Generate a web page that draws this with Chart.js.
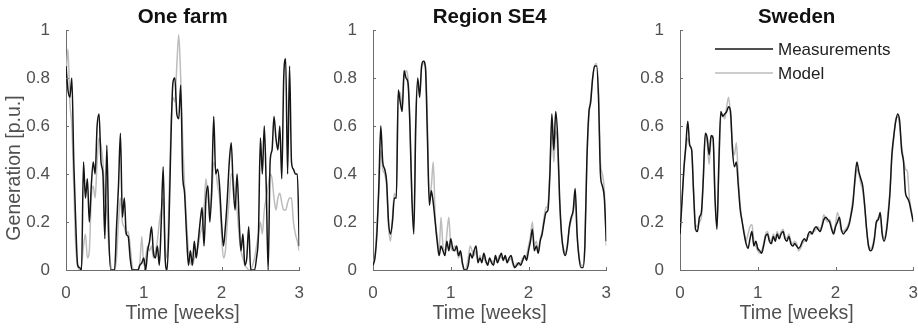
<!DOCTYPE html>
<html>
<head>
<meta charset="utf-8">
<script src="https://cdn.jsdelivr.net/npm/chart.js@4.4.1/dist/chart.umd.min.js"></script>
<style>
  html, body { margin: 0; padding: 0; background: #fff; overflow: hidden; }
  body { width: 918px; height: 328px; position: relative; }
  canvas { position: absolute; top: 0; }
</style>
</head>
<body>
<canvas id="farm" width="309" height="328" style="left:0px"></canvas>
<canvas id="se4" width="309" height="328" style="left:307px"></canvas>
<canvas id="sweden" width="309" height="328" style="left:614px"></canvas>
<script>
// time axis: samples every 0.025 weeks, 0..3
const weeks = Array.from({ length: 121 }, (_, i) => i / 40);
const xTicks = [0, 1, 2, 3];
const yTicks = [0, 0.2, 0.4, 0.6, 0.8, 1];

const farmMeas = [
  0.85,0.75,0.72,0.80,0.45,0.20,0.02,0.01,0.00,0.45,
  0.30,0.38,0.20,0.35,0.45,0.40,0.60,0.65,0.45,0.40,
  0.13,0.52,0.15,0.00,0.00,0.00,0.18,0.35,0.57,0.22,
  0.30,0.15,0.14,0.05,0.00,0.00,0.00,0.00,0.02,0.03,
  0.05,0.00,0.08,0.12,0.18,0.07,0.05,0.10,0.02,0.20,
  0.43,0.05,0.00,0.20,0.55,0.78,0.80,0.65,0.63,0.77,
  0.40,0.32,0.15,0.02,0.08,0.02,0.12,0.05,0.12,0.20,
  0.26,0.10,0.30,0.35,0.20,0.35,0.64,0.40,0.42,0.35,
  0.20,0.10,0.18,0.30,0.45,0.53,0.35,0.25,0.40,0.22,
  0.08,0.15,0.02,0.05,0.18,0.00,0.00,0.00,0.05,0.15,
  0.55,0.40,0.60,0.35,0.00,0.45,0.50,0.64,0.55,0.50,
  0.60,0.38,0.80,0.88,0.40,0.85,0.45,0.42,0.40,0.40,
  0.10
];
const farmModel = [
  0.80,0.92,0.70,0.60,0.35,0.10,0.02,0.00,0.02,0.10,
  0.15,0.05,0.08,0.30,0.35,0.30,0.45,0.55,0.52,0.45,
  0.30,0.25,0.10,0.02,0.00,0.00,0.05,0.20,0.30,0.20,
  0.18,0.15,0.16,0.10,0.02,0.00,0.00,0.00,0.03,0.14,
  0.02,0.05,0.10,0.08,0.10,0.05,0.08,0.12,0.20,0.25,
  0.30,0.10,0.05,0.30,0.60,0.72,0.70,0.85,0.98,0.80,
  0.55,0.35,0.20,0.08,0.03,0.02,0.05,0.08,0.10,0.15,
  0.18,0.25,0.38,0.30,0.25,0.30,0.45,0.42,0.35,0.30,
  0.15,0.05,0.08,0.20,0.30,0.40,0.38,0.30,0.25,0.15,
  0.08,0.05,0.02,0.01,0.00,0.00,0.02,0.05,0.10,0.15,
  0.20,0.15,0.25,0.30,0.35,0.40,0.38,0.30,0.25,0.30,
  0.32,0.28,0.25,0.25,0.28,0.30,0.30,0.20,0.15,0.12,
  0.08
];

const se4Meas = [
  0.02,0.05,0.15,0.35,0.60,0.45,0.42,0.37,0.20,0.15,
  0.20,0.30,0.30,0.75,0.70,0.66,0.83,0.80,0.78,0.60,
  0.30,0.15,0.60,0.80,0.72,0.85,0.87,0.84,0.55,0.27,
  0.33,0.28,0.20,0.12,0.06,0.10,0.08,0.06,0.12,0.08,
  0.13,0.09,0.08,0.10,0.06,0.08,0.03,0.00,0.00,0.02,
  0.07,0.05,0.08,0.10,0.03,0.05,0.03,0.07,0.04,0.02,
  0.05,0.03,0.02,0.06,0.03,0.05,0.07,0.04,0.06,0.03,
  0.05,0.06,0.03,0.01,0.02,0.03,0.02,0.04,0.06,0.04,
  0.08,0.12,0.17,0.08,0.10,0.07,0.12,0.15,0.20,0.24,
  0.25,0.40,0.65,0.50,0.66,0.55,0.30,0.15,0.08,0.06,
  0.10,0.18,0.22,0.25,0.34,0.15,0.05,0.01,0.01,0.10,
  0.45,0.65,0.70,0.80,0.85,0.85,0.72,0.40,0.35,0.30,
  0.12
];
const se4Model = [
  0.03,0.06,0.18,0.32,0.50,0.42,0.40,0.35,0.18,0.12,
  0.22,0.32,0.30,0.72,0.74,0.68,0.80,0.83,0.80,0.62,
  0.32,0.20,0.65,0.78,0.74,0.84,0.86,0.85,0.62,0.30,
  0.35,0.45,0.22,0.14,0.08,0.22,0.10,0.08,0.15,0.22,
  0.10,0.08,0.10,0.09,0.05,0.07,0.02,0.00,0.01,0.05,
  0.10,0.08,0.06,0.08,0.04,0.06,0.04,0.06,0.03,0.03,
  0.04,0.04,0.03,0.05,0.04,0.06,0.05,0.05,0.05,0.04,
  0.04,0.05,0.02,0.01,0.03,0.02,0.03,0.05,0.05,0.06,
  0.10,0.14,0.20,0.10,0.12,0.08,0.13,0.16,0.22,0.26,
  0.27,0.42,0.60,0.45,0.58,0.50,0.28,0.14,0.09,0.07,
  0.11,0.17,0.21,0.24,0.30,0.14,0.06,0.02,0.02,0.12,
  0.45,0.63,0.72,0.80,0.85,0.86,0.75,0.45,0.40,0.33,
  0.10
];

const swedenMeas = [
  0.15,0.28,0.42,0.52,0.62,0.52,0.50,0.32,0.17,0.16,
  0.22,0.24,0.38,0.57,0.55,0.48,0.56,0.55,0.30,0.17,
  0.45,0.66,0.64,0.65,0.66,0.68,0.66,0.50,0.43,0.45,
  0.35,0.25,0.20,0.15,0.11,0.09,0.13,0.16,0.10,0.12,
  0.09,0.08,0.07,0.10,0.14,0.15,0.12,0.11,0.14,0.12,
  0.15,0.13,0.15,0.16,0.13,0.12,0.14,0.11,0.10,0.11,
  0.10,0.09,0.10,0.12,0.13,0.12,0.15,0.16,0.15,0.17,
  0.18,0.17,0.16,0.18,0.21,0.22,0.21,0.20,0.17,0.15,
  0.18,0.20,0.22,0.17,0.15,0.16,0.17,0.19,0.23,0.28,
  0.38,0.45,0.41,0.38,0.35,0.27,0.17,0.10,0.08,0.09,
  0.13,0.20,0.21,0.24,0.15,0.12,0.15,0.22,0.32,0.48,
  0.56,0.62,0.65,0.62,0.50,0.45,0.32,0.30,0.28,0.24,
  0.20
];
const swedenModel = [
  0.17,0.30,0.42,0.50,0.55,0.52,0.50,0.33,0.19,0.18,
  0.20,0.22,0.40,0.56,0.53,0.44,0.55,0.56,0.32,0.18,
  0.42,0.64,0.65,0.63,0.68,0.72,0.64,0.52,0.48,0.53,
  0.38,0.27,0.20,0.16,0.12,0.15,0.18,0.19,0.12,0.10,
  0.08,0.07,0.08,0.11,0.15,0.16,0.13,0.12,0.15,0.13,
  0.16,0.14,0.16,0.17,0.14,0.13,0.15,0.12,0.11,0.12,
  0.11,0.08,0.09,0.11,0.12,0.13,0.14,0.15,0.16,0.16,
  0.17,0.18,0.17,0.19,0.23,0.21,0.20,0.21,0.18,0.16,
  0.19,0.24,0.21,0.16,0.16,0.17,0.18,0.20,0.24,0.30,
  0.36,0.42,0.40,0.36,0.33,0.26,0.17,0.10,0.09,0.10,
  0.14,0.19,0.22,0.22,0.16,0.13,0.16,0.24,0.33,0.47,
  0.55,0.63,0.64,0.60,0.52,0.46,0.42,0.41,0.30,0.25,
  0.21
];

const AXIS = '#6e6e6e';
const TICK_TEXT = '#505050';
const MEAS_COLOR = '#151515';
const MODEL_COLOR = '#bcbcbc';
const FONT = '"Liberation Sans", Arial, sans-serif';
Chart.defaults.font.family = FONT;

// titles, ylabel, inward ticks and the legend
const decor = {
  id: 'decor',
  afterDraw(chart, args, opts) {
    const { ctx, chartArea: a, scales: { x, y } } = chart;
    ctx.save();
    ctx.strokeStyle = AXIS;
    ctx.lineWidth = 1;
    ctx.beginPath();
    xTicks.slice(1).forEach(t => {
      const px = Math.round(x.getPixelForValue(t)) + 0.5;
      ctx.moveTo(px, a.bottom);
      ctx.lineTo(px, a.bottom - 3);
    });
    yTicks.slice(1).forEach(v => {
      const py = Math.round(y.getPixelForValue(v)) + 0.5;
      ctx.moveTo(a.left, py);
      ctx.lineTo(a.left + 3, py);
    });
    ctx.stroke();

    ctx.fillStyle = '#111';
    ctx.font = 'bold 20.5px ' + FONT;
    ctx.textAlign = 'center';
    ctx.textBaseline = 'middle';
    ctx.fillText(opts.title, (a.left + a.right) / 2, 17);

    if (opts.ylabel) {
      ctx.fillStyle = TICK_TEXT;
      ctx.font = '19.5px ' + FONT;
      ctx.translate(15, 168);
      ctx.rotate(-Math.PI / 2);
      ctx.fillText(opts.ylabel, 0, 0);
      ctx.setTransform(1, 0, 0, 1, 0, 0);
    }

    if (opts.legend) {
      ctx.font = '17px ' + FONT;
      ctx.textAlign = 'left';
      ctx.lineWidth = 1.5;
      chart.data.datasets.forEach((ds, i) => {
        const ly = 49 + i * 24;
        ctx.strokeStyle = ds.borderColor;
        ctx.beginPath();
        ctx.moveTo(a.left + 35, ly);
        ctx.lineTo(a.left + 93, ly);
        ctx.stroke();
        ctx.fillStyle = '#222';
        ctx.fillText(ds.label, a.left + 98, ly + 1);
      });
    }
    ctx.restore();
  }
};

function panel(id, title, meas, model, extra) {
  const pts = arr => arr.map((v, i) => ({ x: weeks[i], y: v }));
  return new Chart(document.getElementById(id), {
    type: 'line',
    data: {
      datasets: [{
        label: 'Measurements',
        data: pts(meas),
        borderColor: MEAS_COLOR,
        borderWidth: 1.5,
        pointRadius: 0,
        tension: 0.3,
        cubicInterpolationMode: 'monotone'
      }, {
        label: 'Model',
        data: pts(model),
        borderColor: MODEL_COLOR,
        borderWidth: 1.5,
        pointRadius: 0,
        tension: 0.3,
        cubicInterpolationMode: 'monotone'
      }]
    },
    options: {
      responsive: false,
      animation: false,
      events: [],
      layout: { padding: { top: 30, right: 6, left: 0, bottom: 0 } },
      plugins: {
        legend: { display: false },
        tooltip: { enabled: false },
        decor: Object.assign({ title: title }, extra)
      },
      scales: {
        x: {
          type: 'linear',
          min: 0,
          max: 3,
          afterFit: s => { s.height = 58; },
          afterBuildTicks: s => { s.ticks = xTicks.map(v => ({ value: v })); },
          grid: { display: false },
          border: { color: AXIS, width: 1 },
          ticks: { color: TICK_TEXT, font: { size: 17 }, padding: 5, maxRotation: 0,
                   callback: v => String(v) },
          title: {
            display: true,
            text: 'Time [weeks]',
            color: TICK_TEXT,
            font: { size: 19.5 },
            padding: { top: 0, bottom: 3 }
          }
        },
        y: {
          min: 0,
          max: 1,
          afterFit: s => { s.width = 66; },
          afterBuildTicks: s => { s.ticks = yTicks.map(v => ({ value: v })); },
          grid: { display: false },
          border: { color: AXIS, width: 1 },
          ticks: { color: TICK_TEXT, font: { size: 17 }, padding: 8,
                   callback: v => String(Math.round(v * 10) / 10) }
        }
      }
    },
    plugins: [decor]
  });
}

panel('farm', 'One farm', farmMeas, farmModel, { ylabel: 'Generation [p.u.]' });
panel('se4', 'Region SE4', se4Meas, se4Model, {});
panel('sweden', 'Sweden', swedenMeas, swedenModel, { legend: true });
</script>
</body>
</html>
